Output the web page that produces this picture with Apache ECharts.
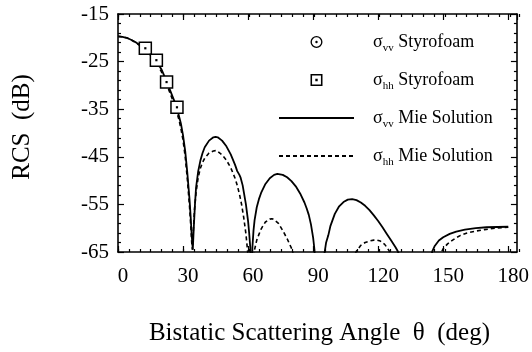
<!DOCTYPE html>
<html>
<head>
<meta charset="utf-8">
<script src="https://cdn.jsdelivr.net/npm/echarts@6/dist/echarts.min.js"></script>
<style>
  html, body { margin: 0; padding: 0; background: #ffffff; }
  #chart { width: 532px; height: 352px; }
</style>
</head>
<body>
<div id="chart"></div>
<script>
// Axis ticks
const xTicks = [0, 30, 60, 90, 120, 150, 180];
const yTicks = [-65, -55, -45, -35, -25, -15];

// Measured Styrofoam sphere points (angle in deg, RCS in dB)
const styroAngles = [12.6, 17.7, 22.4, 27.2];
const styroVV = [-22.2, -24.7, -29.3, -34.6];
const styroHH = [-22.2, -24.7, -29.3, -34.6];

// Mie solution, vv polarisation
const vvAngles = [0, 2, 4, 6, 8, 10, 12, 14, 16, 18, 20, 22, 24, 26, 28, 29, 30, 31, 32, 33, 33.5, 34, 34.5, 35, 35.5, 36, 37, 38, 39, 40, 42, 44, 45, 46, 48, 50, 52, 54, 55, 56, 56.5, 57.5, 59, 60, 60.5, 61, 61.5, 62, 62.5, 63, 64, 65, 66, 68, 70, 72, 73.5, 76, 78, 80, 82, 84, 86, 87, 88, 89, 90, 90.5, 91, 92, 93, 94, 95, 96, 97, 98, 100, 102, 104, 106, 108, 110, 112, 114, 116, 118, 120, 122, 124, 126, 128, 129, 130, 131, 135, 140, 143, 144, 145, 146, 148, 150, 153, 156, 160, 165, 170, 175, 180];
const vvMie = [-19.7, -19.8, -20.0, -20.4, -20.9, -21.5, -22.0, -22.9, -23.9, -25.1, -26.6, -28.7, -31.0, -33.3, -36.2, -38.0, -40.5, -43.8, -48.5, -54.0, -57.5, -61.5, -64.5, -59.5, -55.0, -51.5, -48.0, -45.8, -44.2, -43.0, -41.6, -40.9, -40.8, -40.9, -41.6, -42.8, -44.5, -46.7, -48.0, -48.8, -49.3, -51.0, -55.0, -58.5, -61.0, -64.0, -75.0, -64.0, -60.5, -58.3, -55.6, -53.9, -52.6, -50.7, -49.5, -48.8, -48.6, -48.8, -49.3, -50.1, -51.2, -52.7, -54.6, -55.8, -57.2, -59.2, -62.0, -64.0, -67.0, -75.0, -80.0, -72.0, -66.0, -63.0, -61.5, -59.5, -57.0, -55.4, -54.5, -54.0, -53.9, -54.1, -54.6, -55.3, -56.2, -57.3, -58.5, -59.8, -61.2, -62.6, -64.0, -64.8, -66.0, -68.0, -80.0, -80.0, -70.0, -67.0, -64.8, -63.8, -62.6, -61.9, -61.2, -60.7, -60.3, -60.0, -59.8, -59.75, -59.7];

// Mie solution, hh polarisation
const hhAngles = [0, 2, 4, 6, 8, 10, 12, 14, 16, 18, 20, 22, 24, 26, 28, 29, 30, 31, 32, 33, 33.5, 34, 34.3, 34.8, 35.3, 36, 37, 38, 39, 40, 42, 44, 45, 46, 48, 50, 52, 54, 55, 56, 57, 58, 59, 59.5, 60, 60.5, 61, 62, 62.5, 63, 64, 65, 66, 67, 68, 70, 71, 72, 74, 76, 78, 79, 80, 81, 82, 84, 90, 100, 106, 108, 109, 110, 112, 114, 116, 118, 119.5, 121, 123, 124, 125, 126, 127, 130, 140, 146, 148, 149, 150, 152, 154, 156, 158, 161, 165, 169, 174, 180];
const hhMie = [-19.7, -19.8, -20.0, -20.4, -21.0, -21.6, -22.2, -23.1, -24.2, -25.5, -27.1, -29.2, -31.6, -34.0, -37.0, -39.0, -41.5, -45.0, -49.8, -55.5, -59.0, -63.0, -64.5, -60.0, -56.0, -52.5, -49.3, -47.4, -46.2, -45.3, -44.2, -43.8, -43.7, -43.9, -44.6, -45.7, -47.3, -49.5, -51.0, -52.8, -55.0, -57.8, -61.2, -63.5, -66.0, -72.0, -80.0, -72.0, -67.0, -64.5, -62.5, -61.3, -60.2, -59.4, -58.7, -58.1, -58.0, -58.2, -59.0, -60.5, -62.2, -63.2, -64.2, -65.6, -68.0, -75.0, -85.0, -80.0, -72.0, -67.0, -65.8, -64.8, -63.6, -63.0, -62.7, -62.5, -62.5, -62.7, -63.4, -64.0, -64.7, -66.0, -69.0, -78.0, -78.0, -70.0, -66.5, -65.2, -64.3, -63.3, -62.6, -62.0, -61.5, -61.0, -60.6, -60.3, -60.0, -59.8];

const FONT = 'Liberation Serif';
const pairs = (xs, ys) => xs.map((x, i) => [x, ys[i]]);

// Legend glyphs: ring with centre dot, square frame with centre dot
const circleDot = 'path://M50,0 A50,50 0 1,1 50,100 A50,50 0 1,1 50,0 Z M50,11 A39,39 0 1,0 50,89 A39,39 0 1,0 50,11 Z M50,40 A10,10 0 1,1 50,60 A10,10 0 1,1 50,40 Z';
const squareDot = 'path://M0,0 L100,0 L100,100 L0,100 Z M13,13 L13,87 L87,87 L87,13 Z M40,40 L60,40 L60,60 L40,60 Z';

const axisLineStyle = { color: '#000', width: 1.6 };
const tickStyle = { color: '#000', width: 1.2 };

function xAxisMain(pos, withLabels) {
  return {
    type: 'value', gridIndex: 0, position: pos, min: 0, max: 184, interval: 30,
    axisLine: { show: true, onZero: false, lineStyle: axisLineStyle },
    axisTick: { show: true, inside: true, length: 6, lineStyle: tickStyle },
    minorTick: { show: false },
    splitLine: { show: false },
    axisLabel: withLabels ? {
      show: true, color: '#000', fontFamily: FONT, fontSize: 21, margin: 14,
      padding: [0, 0, 0, 10], showMaxLabel: false,
      formatter: v => (xTicks.indexOf(v) >= 0 ? String(v) : '')
    } : { show: false },
    name: withLabels ? 'Bistatic Scattering Angle  \u03b8  (deg)' : '',
    nameLocation: 'middle', nameGap: 69,
    nameTextStyle: { color: '#000', fontFamily: FONT, fontSize: 25, padding: [0, 0, 0, 4] }
  };
}
function xAxisMinor(pos) {
  return {
    type: 'value', gridIndex: 1, position: pos, min: 0, max: 184, interval: 5,
    axisLine: { show: false, onZero: false },
    axisTick: { show: true, inside: true, length: 3, lineStyle: tickStyle },
    axisLabel: { show: false }, splitLine: { show: false }
  };
}
function yAxisMain(pos, withLabels) {
  return {
    type: 'value', gridIndex: 0, position: pos, min: -65, max: -15, interval: 10,
    axisLine: { show: true, onZero: false, lineStyle: axisLineStyle },
    axisTick: { show: true, inside: true, length: 6, lineStyle: tickStyle },
    minorTick: { show: true, splitNumber: 5, length: 3, lineStyle: tickStyle },
    splitLine: { show: false },
    axisLabel: withLabels ? {
      show: true, color: '#000', fontFamily: FONT, fontSize: 21, margin: 9,
      formatter: v => (yTicks.indexOf(v) >= 0 ? String(v) : '')
    } : { show: false },
    name: withLabels ? 'RCS  (dB)' : '',
    nameLocation: 'middle', nameGap: 83, nameRotate: 90,
    nameTextStyle: { color: '#000', fontFamily: FONT, fontSize: 25, padding: [0, 0, 0, 12] }
  };
}
function yAxisHidden() {
  return { type: 'value', gridIndex: 1, min: -65, max: -15, show: false };
}

const gridBox = { left: 118, right: 13, top: 14, bottom: 100 };

const legendNames = {
  'vv Styrofoam': ['vv', 'Styrofoam'],
  'hh Styrofoam': ['hh', 'Styrofoam'],
  'vv Mie Solution': ['vv', 'Mie Solution'],
  'hh Mie Solution': ['hh', 'Mie Solution']
};

const option = {
  animation: false,
  backgroundColor: '#ffffff',
  grid: [Object.assign({}, gridBox), Object.assign({}, gridBox)],
  xAxis: [xAxisMain('bottom', true), xAxisMain('top', false), xAxisMinor('bottom'), xAxisMinor('top')],
  yAxis: [yAxisMain('left', true), yAxisMain('right', false), yAxisHidden()],
  legend: {
    orient: 'vertical', left: 278, top: 33, padding: 0,
    itemGap: 17, itemWidth: 75, itemHeight: 12,
    selectedMode: false,
    data: [
      { name: 'vv Styrofoam', icon: circleDot, itemStyle: { color: '#000', borderWidth: 0 } },
      { name: 'hh Styrofoam', icon: squareDot, itemStyle: { color: '#000', borderWidth: 0 } },
      { name: 'vv Mie Solution', itemStyle: { opacity: 0, color: 'transparent', borderWidth: 0 } },
      { name: 'hh Mie Solution', itemStyle: { opacity: 0, color: 'transparent', borderWidth: 0 } }
    ],
    formatter: name => {
      const p = legendNames[name];
      return '{g|\u03c3}{s|' + p[0] + '}{t| ' + p[1] + '}';
    },
    textStyle: {
      color: '#000', fontFamily: FONT, fontSize: 18,
      rich: {
        g: { fontFamily: FONT, fontSize: 18, lineHeight: 24, color: '#000', padding: [0, 0, 0, 14] },
        s: { fontFamily: FONT, fontSize: 11, lineHeight: 14, verticalAlign: 'bottom', color: '#000' },
        t: { fontFamily: FONT, fontSize: 18, lineHeight: 24, color: '#000' }
      }
    }
  },
  series: [
    {
      name: 'vv Mie Solution', type: 'line', xAxisIndex: 0, yAxisIndex: 0,
      data: pairs(vvAngles, vvMie), symbol: 'none', showSymbol: false, clip: true,
      lineStyle: { color: '#000', width: 1.8, type: 'solid' }, itemStyle: { color: '#000' },
      emphasis: { disabled: true }, silent: true, z: 2
    },
    {
      name: 'hh Mie Solution', type: 'line', xAxisIndex: 0, yAxisIndex: 0,
      data: pairs(hhAngles, hhMie), symbol: 'none', showSymbol: false, clip: true,
      lineStyle: { color: '#000', width: 1.6, type: [4, 3] }, itemStyle: { color: '#000' },
      emphasis: { disabled: true }, silent: true, z: 2
    },
    {
      name: 'vv Styrofoam', type: 'scatter', xAxisIndex: 0, yAxisIndex: 0,
      data: pairs(styroAngles, styroVV), symbol: 'circle', symbolSize: 10,
      itemStyle: { color: '#fff', borderColor: '#000', borderWidth: 1.2, opacity: 1 },
      emphasis: { disabled: true }, silent: true, z: 3
    },
    {
      name: 'hh Styrofoam', type: 'scatter', xAxisIndex: 0, yAxisIndex: 0,
      data: pairs(styroAngles, styroHH), symbol: 'rect', symbolSize: 12,
      itemStyle: { color: '#fff', borderColor: '#000', borderWidth: 1.5, opacity: 1 },
      emphasis: { disabled: true }, silent: true, z: 4
    },
    {
      name: 'hh Styrofoam', type: 'scatter', xAxisIndex: 0, yAxisIndex: 0,
      data: pairs(styroAngles, styroHH), symbol: 'rect', symbolSize: 2.2,
      itemStyle: { color: '#000', opacity: 1 },
      emphasis: { disabled: true }, silent: true, z: 5
    }
  ]
};

const chart = echarts.init(document.getElementById('chart'), null, { renderer: 'canvas' });
chart.setOption(option);
</script>
</body>
</html>
